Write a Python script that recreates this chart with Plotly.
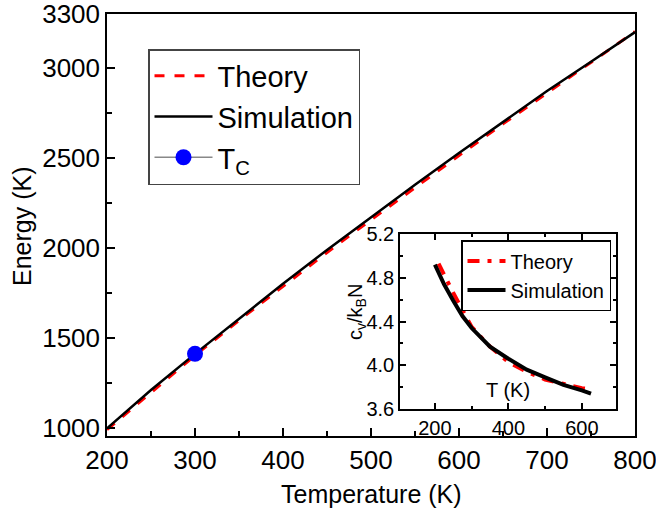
import plotly.graph_objects as go

# Main panel data
T_main = [200, 250, 300, 350, 400, 450, 500, 550, 600, 650, 700, 750, 800]
E_sim = [997, 1210, 1411, 1608, 1800, 1988, 2170, 2350, 2526, 2700, 2870, 3033, 3197]
E_theory = [990, 1198, 1402, 1597, 1787, 1974, 2155, 2335, 2512, 2688, 2860, 3030, 3200]
Tc_T = [300]
Tc_E = [1411]

# Inset data
T_in_sim = [200, 225, 250, 275, 300, 350, 400, 450, 500, 550, 600, 625]
cv_sim = [4.92, 4.74, 4.59, 4.45, 4.34, 4.17, 4.06, 3.96, 3.89, 3.82, 3.77, 3.74]
T_in_th = [210, 250, 300, 350, 400, 450, 500, 550, 600, 625]
cv_th = [4.93, 4.66, 4.35, 4.17, 4.03, 3.94, 3.87, 3.83, 3.79, 3.78]

main_ytick = [1000, 1500, 2000, 2500, 3000, 3300]
main_yminor = [1250, 1750, 2250, 2750]

FONT = "Arial, Liberation Sans, sans-serif"
W, H = 656, 519

fig = go.Figure()

fig.add_trace(go.Scatter(x=T_main, y=E_theory, mode="lines", name="Theory",
                         line=dict(color="red", width=3, dash="10px,10px"),
                         xaxis="x", yaxis="y", legend="legend"))
fig.add_trace(go.Scatter(x=T_main, y=E_sim, mode="lines", name="Simulation",
                         line=dict(color="black", width=2.5),
                         xaxis="x", yaxis="y", legend="legend"))
fig.add_trace(go.Scatter(x=Tc_T, y=Tc_E, mode="lines+markers", name="T<sub>C</sub>",
                         line=dict(color="#888888", width=1.5),
                         marker=dict(color="blue", size=16),
                         xaxis="x", yaxis="y", legend="legend"))

fig.add_trace(go.Scatter(x=T_in_th, y=cv_th, mode="lines", name="Theory",
                         line=dict(color="red", width=4, dash="12px,8px,4px,8px"),
                         xaxis="x2", yaxis="y2", legend="legend2"))
fig.add_trace(go.Scatter(x=T_in_sim, y=cv_sim, mode="lines", name="Simulation",
                         line=dict(color="black", width=4),
                         xaxis="x2", yaxis="y2", legend="legend2"))

axis_common = dict(showgrid=False, zeroline=False, showline=True, linecolor="black",
                   linewidth=1.5, ticks="inside", tickcolor="black", tickwidth=1.5,
                   automargin=False, ticklabeloverflow="allow")

fig.update_layout(
    width=W, height=H,
    margin=dict(l=0, r=0, t=0, b=0, autoexpand=False),
    paper_bgcolor="white", plot_bgcolor="white",
    font=dict(family=FONT, color="black"),
    xaxis=dict(domain=[107/W, 635/W], range=[200, 800], dtick=100, tick0=200,
               mirror=True, ticklen=8,
               minor=dict(dtick=50, tick0=200, ticks="inside", ticklen=5, tickcolor="black"),
               tickfont=dict(size=26), **axis_common),
    yaxis=dict(domain=[83/H, 505.5/H], range=[955, 3300.5], tickmode="array",
               tickvals=main_ytick, mirror=True, ticklen=8,
               minor=dict(tickmode="array", tickvals=main_yminor, ticks="inside",
                          ticklen=5, tickcolor="black"),
               tickfont=dict(size=26), **axis_common),
    xaxis2=dict(domain=[400/W, 616/W], range=[105, 693], anchor="y2",
                tickvals=[200, 400, 600], mirror="allticks", ticklen=6,
                minor=dict(dtick=100, tick0=100, ticks="inside", ticklen=3, tickcolor="black"),
                tickfont=dict(size=20), **axis_common),
    yaxis2=dict(domain=[110/H, 285/H], range=[3.6, 5.2], anchor="x2",
                dtick=0.4, tick0=3.6, tickformat=".1f", mirror="allticks", ticklen=6,
                minor=dict(dtick=0.2, tick0=3.6, ticks="inside", ticklen=3, tickcolor="black"),
                tickfont=dict(size=20), **axis_common),
    legend=dict(x=148/W, y=(H-49)/H, xanchor="left", yanchor="top",
                bgcolor="white", bordercolor="#444", borderwidth=1.5,
                itemwidth=58, font=dict(size=29, family=FONT), tracegroupgap=0),
    legend2=dict(x=461/W, y=(H-240)/H, xanchor="left", yanchor="top",
                 bgcolor="white", bordercolor="black", borderwidth=1.5,
                 itemwidth=38, font=dict(size=20, family=FONT), tracegroupgap=0),
    annotations=[
        dict(x=400, y=3.77, xref="x2", yref="y2", text="T (K)",
             showarrow=False, font=dict(size=20, family=FONT)),
        dict(x=371/W, y=(H-494)/H, xref="paper", yref="paper", text="Temperature (K)",
             xanchor="center", yanchor="middle",
             showarrow=False, font=dict(size=25, family=FONT)),
        dict(x=22/W, y=(H-227)/H, xref="paper", yref="paper", text="Energy (K)",
             xanchor="center", yanchor="middle",
             textangle=-90, showarrow=False, font=dict(size=25, family=FONT)),
        dict(x=357/W, y=(H-312)/H, xref="paper", yref="paper",
             text="c<sub>v</sub>/k<sub>B</sub>N", xanchor="center", yanchor="middle",
             textangle=-90, showarrow=False, font=dict(size=20, family=FONT)),
    ],
    showlegend=True,
)

fig.write_html("out.html")
